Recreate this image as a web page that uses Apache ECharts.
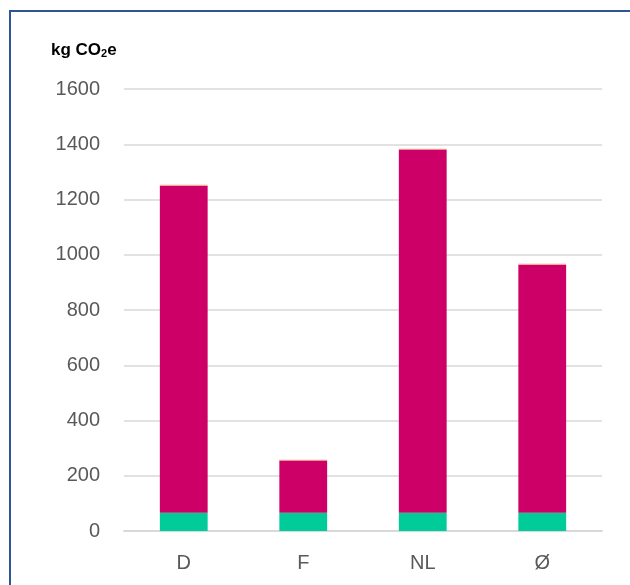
<!DOCTYPE html>
<html>
<head>
<meta charset="utf-8">
<script src="https://cdn.jsdelivr.net/npm/echarts@6/dist/echarts.min.js"></script>
<style>
  html, body { margin: 0; padding: 0; background: #fff; }
  #frame { position: absolute; left: 9px; top: 10px; width: 630px; height: 600px;
           border-top: 2px solid #2f5597; border-left: 2px solid #2f5597; }
  #chart { position: absolute; left: 0; top: 0; width: 630px; height: 585px; }
</style>
</head>
<body>
<div id="frame"></div>
<div id="chart"></div>
<script>
// Emissions per country, stacked by source (kg CO2e)
const categories = ['D', 'F', 'NL', 'Ø'];
const baseValues = [66, 66, 66, 66];
const mainValues = [1184, 189, 1315, 898];
const topValues = [3, 3, 3, 3];
const yTicks = { min: 0, max: 1600, interval: 200 };

const chart = echarts.init(document.getElementById('chart'), null, { renderer: 'canvas' });
const labelFont = '"Liberation Sans", "DejaVu Sans", sans-serif';

chart.setOption({
  animation: false,
  backgroundColor: 'transparent',
  grid: { left: 124, right: 28, top: 89, bottom: 54, containLabel: false },
  title: {
    left: 46, top: 36,
    text: '{a|kg CO}{s|2}{a|e}',
    textStyle: {
      rich: {
        a: { fontFamily: labelFont, fontWeight: 'bold', fontSize: 17, color: '#000' },
        s: { fontFamily: labelFont, fontWeight: 'bold', fontSize: 11, color: '#000', verticalAlign: 'bottom', padding: [7, 0, 0, 0] }
      }
    }
  },
  xAxis: {
    type: 'category',
    data: categories,
    axisLine: { lineStyle: { color: '#d9d9d9', width: 2 } },
    axisTick: { show: false },
    axisLabel: { color: '#595959', fontSize: 20, fontFamily: labelFont, margin: 22 }
  },
  yAxis: {
    type: 'value',
    min: yTicks.min, max: yTicks.max, interval: yTicks.interval,
    axisLine: { show: false },
    axisTick: { show: false },
    axisLabel: { color: '#595959', fontSize: 20, fontFamily: labelFont, margin: 24,
                 formatter: v => String(v) },
    splitLine: { lineStyle: { color: '#d9d9d9', width: 1.5 } }
  },
  series: [
    { type: 'bar', stack: 'total', data: baseValues, barWidth: '40%',
      itemStyle: { color: '#00cc99' } },
    { type: 'bar', stack: 'total', data: mainValues, barWidth: '40%',
      itemStyle: { color: '#cc0066' } },
    { type: 'bar', stack: 'total', data: topValues, barWidth: '40%',
      itemStyle: { color: '#f4a582' } }
  ]
});
</script>
</body>
</html>
